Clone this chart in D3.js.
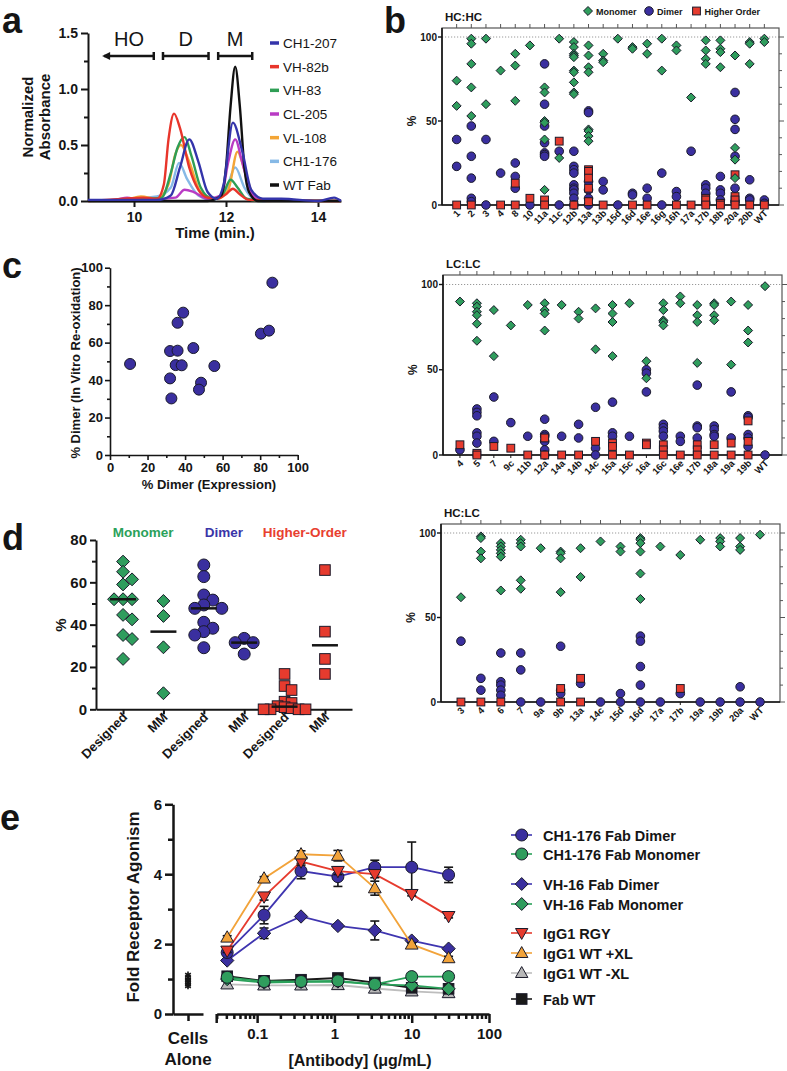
<!DOCTYPE html>
<html><head><meta charset="utf-8">
<script src="https://cdn.jsdelivr.net/npm/d3@7"></script>
<style>body{margin:0;background:#fff}svg{display:block}</style>
</head><body>
<svg id="c" width="787" height="1071"></svg>
<script>
// ================= DATA =================
// Panel a: SEC traces [time (min), normalized absorbance]
const secNames = ["CH1-207","VH-82b","VH-83","CL-205","VL-108","CH1-176","WT Fab"];
const secCH1_176 = [[9,0],[10.5,0.04],[10.8,0.12],[10.98,0.34],[11.15,0.2],[11.4,0.05],[11.7,0.01],[12.0,0.1],[12.2,0.3],[12.4,0.12],[12.6,0.02],[13,0],[14.5,0]];
const secVL_108 = [[9,0],[9.8,0.01],[10.15,0.04],[10.5,0.02],[10.75,0.15],[10.9,0.42],[11.02,0.5],[11.2,0.35],[11.45,0.08],[11.8,0.02],[12.05,0.1],[12.25,0.44],[12.4,0.28],[12.6,0.05],[12.9,0],[14.5,0]];
const secCL_205 = [[9,0],[9.6,0.01],[9.85,0.03],[10.1,0.01],[10.9,0.03],[11.1,0.1],[11.3,0.08],[11.6,0.02],[11.9,0.05],[12.05,0.35],[12.2,0.55],[12.35,0.35],[12.55,0.07],[12.8,0],[14.5,0]];
const secVH_83 = [[9,0],[10.3,0.02],[10.6,0.03],[10.8,0.25],[10.95,0.48],[11.1,0.57],[11.25,0.4],[11.45,0.12],[11.7,0.02],[11.9,0.04],[12.1,0.19],[12.25,0.12],[12.45,0.02],[12.8,0],[14.5,0]];
const secVH_82b = [[9,0],[9.8,0.02],[10.2,0.03],[10.5,0.02],[10.65,0.15],[10.75,0.55],[10.87,0.78],[11.0,0.65],[11.2,0.3],[11.4,0.1],[11.6,0.03],[11.8,0.02],[12.0,0.06],[12.15,0.11],[12.3,0.06],[12.5,0.01],[14.5,0]];
const secWT = [[9,0],[11.6,0],[11.9,0.05],[12.0,0.3],[12.1,0.85],[12.2,1.2],[12.3,0.85],[12.4,0.3],[12.5,0.08],[12.7,0],[14.5,0]];
const secCH1_207 = [[9,0.01],[10.5,0.01],[10.8,0.05],[11.0,0.3],[11.2,0.55],[11.4,0.35],[11.6,0.08],[11.8,0.02],[11.95,0.15],[12.15,0.7],[12.35,0.45],[12.55,0.1],[12.8,0.02],[13.2,0.02],[14.0,0.0],[14.35,0.03],[14.5,0.0]];
const secTicksX = [10,12,14];
const secTicksY = [0,0.5,1.0,1.5];

// Panel b: HC:HC
const hchcCats = ["1","2","3","4","8","10","11a","11c","12b","13a","13b","15d","16d","16e","16g","16h","17a","17b","18b","20a","20b","WT"];
const hchcMonomer = [[74,59],[99,96,84,70,53],[99,60],[80],[90,83,62],[95],[70,67,50,49,39,9],[99,28],[97,94,90,89,88,80,79,73,67,66],[95,89,82,79,45,44,41,38],[90,86,85],[99],[94,93],[96,90],[99,80],[95,92],[64],[98,92,87,84],[98,93,91,82],[89,34,27,16],[97,96,84],[99,97]];
const hchcDimer = [[39,23],[47,29,16,4,2],[39,0],[19],[25,17,10],[0],[84,60,47,37,31,30,29],[32,0],[32,23,21,19,12,10,9,7,4,0],[56,55,14,9,4,0],[14,9],[0],[7,6],[10,4],[19,0],[8,5],[32],[12,10,7,1],[17,9,7,3],[67,51,45,29,10,2],[15,4,3],[3,1]];
const hchcHigher = [[0],[0],[],[0],[13,0],[4],[3,0],[38],[0],[21,20,16,10,2],[0],[],[0],[0],[],[0],[0],[4,3,0],[1,0],[18,5,3,0],[0],[0]];
// Panel b: LC:LC
const lclcCats = ["4","5","7","9c","11b","12a","14a","14b","14c","15a","15c","16a","16c","16e","17b","18a","19a","19b","WT"];
const lclcMonomer = [[90],[89,87,84,82,77,67],[85,58],[76],[88],[89,85,83,73],[88],[84,80],[86,62],[88,83,78,58],[89],[55,45],[89,85,79,78,76],[93,89],[88,82,78,54],[89,88,82,79],[90,53],[88,73,66],[99]];
const lclcDimer = [[3],[27,25,23,13,11,7],[34,8],[19],[11],[21,12,11,8,3,0],[11],[18,10],[28,4,0],[31,13,11],[11],[50,48,37],[18,16,14,11],[11,8],[41,17,16,10],[17,15,12,11],[37,10],[23,22,12,10,5],[0]];
const lclcHigher = [[6],[1,0],[5],[4],[0],[10,0],[0],[0],[8],[7,5,0],[0],[7,6],[6,3,0],[0],[6,3,0],[6,0],[7,0],[20,8,0],[]];
// Panel b: HC:LC
const hclcCats = ["3","4","6","7","9a","9b","13a","14c","15d","16d","17a","17b","19a","19b","20a","WT"];
const hclcMonomer = [[62],[98,97,89,85],[94,92,90,88,86,66],[96,94,92,72,67],[91],[89,88,85,65],[91,74],[95],[92,89],[97,96,94,89,76,61],[92],[87],[96],[97,95,92],[97,92,90],[99]];
const hclcDimer = [[36],[14,7],[29,12,10,7,4],[29,19,0],[0],[33,7,5],[11],[0],[5,0],[39,36,21,10,0],[0],[5],[0],[0],[9,0],[0]];
const hclcHigher = [[0],[0],[0],[],[],[8,0],[14,0],[],[],[],[],[8],[],[],[],[]];
const bLegend = ["Monomer","Dimer","Higher Order"];

// Panel c: % dimer expression vs in vitro re-oxidation
const cExpression = [10.7,32,36,36,39,35,38.2,32,32.7,44.4,48.5,47.4,55.6,80.4,84.7,86.5];
const cReoxidation = [48.6,55.5,55.7,70.6,76,48,47.9,40.9,30.2,57.1,38.6,34.9,47.5,64.8,66.4,92];

// Panel d
const dGroups = ["Designed","MM","Designed","MM","Designed","MM"];
const dHeaders = ["Monomer","Dimer","Higher-Order"];
const dMonomerDesigned = [69.8,65,61.4,59,52,52,52,44.6,42.5,35.1,33.2,23.8];
const dMonomerMM = [51.2,44.1,29.3,7.6];
const dDimerDesigned = [68.2,62.7,54,51.6,49.3,47.7,47.7,41.1,38.3,36.7,35.1,29.1];
const dDimerMM = [33.5,31.5,31.5,26.1];
const dHigherDesigned = [16.7,11,9.1,3.6,3.0,1.5,1,0.5,0,0,0,0];
const dHigherMM = [65.8,36.7,23.8,16.7];

// Panel e
const eConc = [0.041,0.123,0.37,1.11,3.33,10,30];
const eCH1Dimer = [1.76,2.83,4.09,3.93,4.2,4.2,3.98];
const eCH1DimerErr = [0.1,0.25,0.22,0.28,0.2,0.72,0.22];
const eCH1Monomer = [1.05,0.93,0.93,0.95,0.85,1.07,1.07];
const eVH16Dimer = [1.53,2.31,2.79,2.52,2.39,2.1,1.87];
const eVH16DimerErr = [0.05,0.15,0.05,0.05,0.27,0.05,0.05];
const eVH16Monomer = [1.0,0.9,0.92,0.93,0.85,0.82,0.72];
const eRGY = [1.81,3.36,4.36,4.09,4.0,3.43,2.8];
const eRGYErr = [0.05,0.1,0.1,0.1,0.1,0.05,0.05];
const eWTplusXL = [2.19,3.88,4.57,4.53,3.6,1.99,1.6];
const eWTplusXLErr = [0.05,0.05,0.1,0.15,0.2,0.05,0.05];
const eWTminusXL = [0.85,0.82,0.82,0.83,0.73,0.65,0.6];
const eFabWT = [1.08,0.95,0.98,1.03,0.9,0.75,0.72];
const eCellsAlone = [1.12,1.05,1.0,0.95,0.9,0.85,0.8];
const eLegend = ["CH1-176 Fab Dimer","CH1-176 Fab Monomer","VH-16 Fab Dimer","VH-16 Fab Monomer","IgG1 RGY","IgG1 WT +XL","IgG1 WT -XL","Fab WT"];
const eTicksX = [0.1,1,10,100];
const eTicksY = [0,2,4,6];

// ================= DRAWING =================
const F = '"Liberation Sans", Arial, Helvetica, sans-serif';
const INK = "#151515";
const COL = {green:"#2f9d5d", blue:"#3a2f9f", red:"#e63b2e", orange:"#f2a33a", gray:"#b8b8b8"};
const svg = d3.select("#c");
svg.append("rect").attr("width",787).attr("height",1071).attr("fill","#fff");

function text(g,x,y,s,o={}){
  const t=g.append("text").attr("x",x).attr("y",y).text(s)
    .attr("font-family",F).attr("font-size",o.size||12).attr("font-weight",o.weight||"bold")
    .attr("fill",o.fill||INK).attr("text-anchor",o.anchor||"start");
  if(o.rotate!==undefined) t.attr("transform",`rotate(${o.rotate},${x},${y})`);
  return t;
}
function styleAxis(g,fs,sw){
  g.attr("font-family",null).attr("font-size",null);
  g.select(".domain").attr("stroke",INK).attr("stroke-width",sw);
  g.selectAll(".tick line").attr("stroke",INK).attr("stroke-width",sw);
  g.selectAll(".tick text").attr("font-family",F).attr("font-size",fs).attr("font-weight","bold").attr("fill",INK);
}
function diamondPath(cx,cy,h){return `M${cx},${cy-h}L${cx+h},${cy}L${cx},${cy+h}L${cx-h},${cy}Z`;}
function marker(g,type,cx,cy,s,fill){
  let el;
  if(type==="circle") el=g.append("circle").attr("cx",cx).attr("cy",cy).attr("r",s);
  else if(type==="diamond") el=g.append("path").attr("d",diamondPath(cx,cy,s*1.15));
  else if(type==="square") el=g.append("rect").attr("x",cx-s).attr("y",cy-s).attr("width",2*s).attr("height",2*s);
  else if(type==="tri") el=g.append("path").attr("d",`M${cx},${cy-s*1.15}L${cx+s*1.1},${cy+s*0.8}L${cx-s*1.1},${cy+s*0.8}Z`);
  else if(type==="trid") el=g.append("path").attr("d",`M${cx},${cy+s*1.15}L${cx+s*1.1},${cy-s*0.8}L${cx-s*1.1},${cy-s*0.8}Z`);
  el.attr("fill",fill).attr("stroke","#1a1a2a").attr("stroke-width",1);
  return el;
}
function panelLabel(s,x,y){ text(svg,x,y,s,{size:36}); }

// ---------- Panel a ----------
(function(){
  const g=svg.append("g");
  const x=d3.scaleLinear([9,14.5],[88,341]);
  const y=d3.scaleLinear([0,1.5],[201,33]);
  const ax=g.append("g").attr("transform","translate(0,201)")
    .call(d3.axisBottom(x).tickValues(secTicksX).tickFormat(d3.format("d")).tickSize(6).tickSizeOuter(0).tickPadding(5));
  styleAxis(ax,14,2);
  const ay=g.append("g").attr("transform","translate(88,0)")
    .call(d3.axisLeft(y).tickValues(secTicksY).tickFormat(d3.format(".1f")).tickSize(7).tickSizeOuter(0).tickPadding(3));
  styleAxis(ay,14,2);
  const aym=g.append("g").attr("transform","translate(88,0)")
    .call(d3.axisLeft(y).tickValues([0.25,0.75,1.25]).tickFormat("").tickSize(4).tickSizeOuter(0));
  styleAxis(aym,14,2); aym.select(".domain").remove();
  text(g,33,117,"Normalized",{size:15,anchor:"middle",rotate:-90});
  text(g,50,117,"Absorbance",{size:15,anchor:"middle",rotate:-90});
  text(g,215,238,"Time (min.)",{size:15,anchor:"middle"});
  const regions=[["HO",9.35,10.43,true],["D",10.63,11.62,false],["M",11.83,12.57,false]];
  regions.forEach(([lab,a,b,arrow])=>{
    const ym=56;
    g.append("line").attr("x1",x(a)).attr("x2",x(b)).attr("y1",ym).attr("y2",ym).attr("stroke",INK).attr("stroke-width",2.5);
    g.append("line").attr("x1",x(b)).attr("x2",x(b)).attr("y1",ym-4).attr("y2",ym+4).attr("stroke",INK).attr("stroke-width",2.5);
    if(arrow) g.append("path").attr("d",`M${x(a)-2},${ym}L${x(a)+6},${ym-4}L${x(a)+6},${ym+4}Z`).attr("fill",INK);
    else g.append("line").attr("x1",x(a)).attr("x2",x(a)).attr("y1",ym-4).attr("y2",ym+4).attr("stroke",INK).attr("stroke-width",2.5);
    text(g,(x(a)+x(b))/2,46,lab,{size:20,weight:"normal",anchor:"middle"});
  });
  const series=[[secCH1_176,"#86b9e6"],[secVL_108,"#f3a536"],[secCL_205,"#b93bc4"],[secVH_83,"#2f9e55"],[secVH_82b,"#e8352b"],[secWT,"#111111"],[secCH1_207,"#3434aa"]];
  const line=d3.line().x(d=>x(d[0])).y(d=>y(d[1])).curve(d3.curveMonotoneX);
  series.forEach(([d,c])=>g.append("path").attr("d",line(d)).attr("fill","none").attr("stroke",c).attr("stroke-width",2.4).attr("stroke-linejoin","round"));
  const legCols=["#3434aa","#e8352b","#2f9e55","#b93bc4","#f3a536","#86b9e6","#111111"];
  const ly=d3.scalePoint(secNames,[43,185]);
  secNames.forEach((n,i)=>{
    g.append("line").attr("x1",270).attr("x2",279).attr("y1",ly(n)).attr("y2",ly(n)).attr("stroke",legCols[i]).attr("stroke-width",3.5);
    text(g,283,ly(n)+5,n,{size:13.5,weight:"normal"});
  });
})();
panelLabel("a",2,33);

// ---------- Panel b ----------
function dotPanel(cfg){
  const g=svg.append("g");
  const {cats,mon,dim,hi,left,right,top,y0,y100,title}=cfg;
  const x=d3.scalePoint(cats,[left,right]).padding(1);
  const y=d3.scaleLinear([0,100],[y0,y100]);
  g.append("line").attr("x1",left).attr("x2",right).attr("y1",y(100)).attr("y2",y(100)).attr("stroke","#999").attr("stroke-width",1).attr("stroke-dasharray","1.2,1.8");
  g.append("rect").attr("x",left).attr("y",top).attr("width",right-left).attr("height",y0-top).attr("fill","none").attr("stroke","#555").attr("stroke-width",1.2);
  g.append("line").attr("x1",left).attr("x2",right).attr("y1",y0).attr("y2",y0).attr("stroke",INK).attr("stroke-width",1.6);
  g.append("line").attr("x1",left).attr("x2",left).attr("y1",top).attr("y2",y0).attr("stroke",INK).attr("stroke-width",1.6);
  cats.forEach(c=>g.append("line").attr("x1",x(c)).attr("x2",x(c)).attr("y1",top).attr("y2",top-4).attr("stroke","#555").attr("stroke-width",1));
  d3.range(0,101,10).forEach(v=>g.append("line").attr("x1",right).attr("x2",right+(v%50===0?5:3)).attr("y1",y(v)).attr("y2",y(v)).attr("stroke","#555").attr("stroke-width",1));
  [0,50,100].forEach(v=>{
    g.append("line").attr("x1",left-4).attr("x2",left).attr("y1",y(v)).attr("y2",y(v)).attr("stroke",INK).attr("stroke-width",1.4);
    text(g,left-5,y(v)+3.5,String(v),{size:10,anchor:"end"});
  });
  text(g,left-26,y(50),"%",{size:12,anchor:"middle",rotate:-90});
  text(g,left+3,top-7,title,{size:11.5});
  cats.forEach(c=>{
    g.append("line").attr("x1",x(c)).attr("x2",x(c)).attr("y1",y0).attr("y2",y0+3).attr("stroke",INK).attr("stroke-width",1);
    text(g,x(c)+4,y0+9,c,{size:9.5,anchor:"end",rotate:-45});
  });
  cats.forEach((c,i)=>{
    dim[i].forEach(v=>marker(g,"circle",x(c),y(v),4.3,COL.blue));
    hi[i].forEach(v=>marker(g,"square",x(c),y(v),3.9,COL.red));
    mon[i].forEach(v=>marker(g,"diamond",x(c),y(v),3.9,COL.green));
  });
}
dotPanel({cats:hchcCats,mon:hchcMonomer,dim:hchcDimer,hi:hchcHigher,left:442,right:779,top:28,y0:205,y100:37,title:"HC:HC"});
dotPanel({cats:lclcCats,mon:lclcMonomer,dim:lclcDimer,hi:lclcHigher,left:443,right:782,top:275,y0:455,y100:284.5,title:"LC:LC"});
dotPanel({cats:hclcCats,mon:hclcMonomer,dim:hclcDimer,hi:hclcHigher,left:441,right:780,top:524,y0:702,y100:533,title:"HC:LC"});
(function(){
  const g=svg.append("g");
  const lx=d3.scaleOrdinal(bLegend,[588,649,696.5]);
  const types=["diamond","circle","square"], cols=[COL.green,COL.blue,COL.red];
  bLegend.forEach((n,i)=>{
    marker(g,types[i],lx(n),11,types[i]==="circle"?4.3:3.9,cols[i]);
    text(g,lx(n)+8,14.5,n,{size:9});
  });
})();
panelLabel("b",384,33);

// ---------- Panel c ----------
(function(){
  const g=svg.append("g");
  const x=d3.scaleLinear([0,100],[110,297.7]);
  const y=d3.scaleLinear([0,100],[455,267.7]);
  const ax=g.append("g").attr("transform","translate(0,455)")
    .call(d3.axisBottom(x).tickValues(d3.range(0,101,20)).tickSize(5).tickSizeOuter(0).tickPadding(3));
  styleAxis(ax,13,1.6);
  const axm=g.append("g").attr("transform","translate(0,455)")
    .call(d3.axisBottom(x).tickValues(d3.range(10,100,20)).tickFormat("").tickSize(3).tickSizeOuter(0));
  styleAxis(axm,13,1.6); axm.select(".domain").remove();
  const ay=g.append("g").attr("transform","translate(110,0)")
    .call(d3.axisLeft(y).tickValues(d3.range(0,101,20)).tickSize(5).tickSizeOuter(0).tickPadding(2));
  styleAxis(ay,13,1.6);
  const aym=g.append("g").attr("transform","translate(110,0)")
    .call(d3.axisLeft(y).tickValues(d3.range(10,100,20)).tickFormat("").tickSize(3).tickSizeOuter(0));
  styleAxis(aym,13,1.6); aym.select(".domain").remove();
  text(g,80,363,"% Dimer (In Vitro Re-oxidation)",{size:13,anchor:"middle",rotate:-90});
  text(g,209,489,"% Dimer (Expression)",{size:13,anchor:"middle"});
  cExpression.forEach((v,i)=>marker(g,"circle",x(v),y(cReoxidation[i]),5.5,COL.blue));
})();
panelLabel("c",2,278);

// ---------- Panel d ----------
(function(){
  const g=svg.append("g");
  const idx=d3.range(dGroups.length);
  const x=d3.scalePoint(idx,[96,352]).padding(0.67);
  const y=d3.scaleLinear([0,80],[709.3,540]);
  const ay=g.append("g").attr("transform","translate(96,0)")
    .call(d3.axisLeft(y).tickValues([0,20,40,60,80]).tickSize(6).tickSizeOuter(0).tickPadding(3));
  styleAxis(ay,15,2);
  const aym=g.append("g").attr("transform","translate(96,0)")
    .call(d3.axisLeft(y).tickValues([10,30,50,70]).tickFormat("").tickSize(4).tickSizeOuter(0));
  styleAxis(aym,15,2); aym.select(".domain").remove();
  const ax=g.append("g").attr("transform","translate(0,709.3)")
    .call(d3.axisBottom(x).tickFormat("").tickSize(5).tickSizeOuter(0));
  styleAxis(ax,13,2);
  idx.forEach(i=>text(g,x(i)+5,718,dGroups[i],{size:13,anchor:"end",rotate:-45}));
  text(g,66,625,"%",{size:15,anchor:"middle",rotate:-90});
  const hc=["#2aa15a","#3a35a8","#e8402f"];
  dHeaders.forEach((h,k)=>text(g,(x(2*k)+x(2*k+1))/2,537,h,{size:13.5,anchor:"middle",fill:hc[k]}));
  const groups=[[dMonomerDesigned,"diamond",COL.green,9,9],[dMonomerMM,"diamond",COL.green,9,9],[dDimerDesigned,"circle",COL.blue,9,9],[dDimerMM,"circle",COL.blue,9,9],[dHigherDesigned,"square",COL.red,7,5],[dHigherMM,"square",COL.red,9,9]];
  groups.forEach(([vals,type,col,step,minD],i)=>{
    const placed=[];
    vals.slice().sort((a,b)=>b-a).forEach(v=>{
      const cy=y(v);
      for(let k=0;k<20;k++){
        const off=(k===0?0:(k%2?1:-1)*Math.ceil(k/2)*step);
        const cx=x(i)+off;
        if(placed.every(p=>Math.hypot(p[0]-cx,p[1]-cy)>=minD-0.01)){placed.push([cx,cy]);break;}
      }
    });
    placed.forEach(p=>marker(g,type,p[0],p[1],type==="circle"?6:(type==="square"?5.3:5.6),col));
    const med=d3.median(vals);
    g.append("line").attr("x1",x(i)-13).attr("x2",x(i)+13).attr("y1",y(med)).attr("y2",y(med)).attr("stroke",INK).attr("stroke-width",2.5);
  });
})();
panelLabel("d",2,550);

// ---------- Panel e ----------
(function(){
  const g=svg.append("g");
  const x=d3.scaleLog([0.03,100],[216.7,489]);
  const y=d3.scaleLinear([0,6],[1014,804.3]);
  const ay=g.append("g").attr("transform","translate(173,0)")
    .call(d3.axisLeft(y).tickValues(eTicksY).tickFormat(d3.format("d")).tickSize(8).tickSizeOuter(0).tickPadding(3));
  styleAxis(ay,15,2.5);
  const aym=g.append("g").attr("transform","translate(173,0)")
    .call(d3.axisLeft(y).tickValues([1,3,5]).tickFormat("").tickSize(5).tickSizeOuter(0));
  styleAxis(aym,15,2.5); aym.select(".domain").remove();
  const xc=d3.scalePoint(["Cells Alone"],[173,203]).padding(0.5);
  const axc=g.append("g").attr("transform","translate(0,1014)")
    .call(d3.axisBottom(xc).tickFormat("").tickSize(7).tickSizeOuter(0));
  styleAxis(axc,15,2.5);
  text(g,xc("Cells Alone"),1044,"Cells",{size:17,anchor:"middle"});
  text(g,xc("Cells Alone"),1065,"Alone",{size:17,anchor:"middle"});
  eCellsAlone.forEach(v=>{
    g.append("path").attr("transform",`translate(${xc("Cells Alone")},${y(v)})`).attr("d",d3.symbol(d3.symbolAsterisk,30)()).attr("stroke",INK).attr("stroke-width",1.6).attr("fill","none");
  });
  const minor=[];
  [0.01,0.1,1,10].forEach(d=>d3.range(2,10).forEach(k=>{const v=d*k; if(v>=0.03&&v<100&&eTicksX.indexOf(v)<0) minor.push(v);}));
  const ax=g.append("g").attr("transform","translate(0,1014)")
    .call(d3.axisBottom(x).tickValues(eTicksX).tickFormat(d=>String(d)).tickSize(9).tickSizeOuter(0).tickPadding(5));
  styleAxis(ax,15,2.5);
  const axm=g.append("g").attr("transform","translate(0,1014)")
    .call(d3.axisBottom(x).tickValues(minor).tickFormat("").tickSize(5).tickSizeOuter(0));
  styleAxis(axm,15,2.5); axm.select(".domain").remove();
  g.append("line").attr("x1",x(0.03)).attr("x2",x(0.03)).attr("y1",1014).attr("y2",1023).attr("stroke",INK).attr("stroke-width",2.5);
  text(g,139,907,"Fold Receptor Agonism",{size:17,anchor:"middle",rotate:-90});
  text(g,360,1066,"[Antibody] (\u03bcg/mL)",{size:16,anchor:"middle"});
  const series=[
    {v:eWTminusXL,type:"tri",fill:COL.gray,line:"#bdbdbd"},
    {v:eFabWT,type:"square",fill:"#1a1a1a",line:"#1a1a1a"},
    {v:eVH16Monomer,type:"diamond",fill:COL.green,line:"#2aa15a"},
    {v:eCH1Monomer,type:"circle",fill:COL.green,line:"#2aa15a"},
    {v:eVH16Dimer,err:eVH16DimerErr,type:"diamond",fill:COL.blue,line:"#3f35b0"},
    {v:eCH1Dimer,err:eCH1DimerErr,type:"circle",fill:COL.blue,line:"#3f35b0"},
    {v:eRGY,err:eRGYErr,type:"trid",fill:COL.red,line:"#e63b2e"},
    {v:eWTplusXL,err:eWTplusXLErr,type:"tri",fill:COL.orange,line:"#f2a33a"}
  ];
  const line=d3.line().x((d,i)=>x(eConc[i])).y(d=>y(d));
  series.forEach(s=>{
    g.append("path").attr("d",line(s.v)).attr("fill","none").attr("stroke",s.line).attr("stroke-width",1.8);
    if(s.err) s.v.forEach((v,i)=>{
      const cx=x(eConc[i]), e=s.err[i];
      g.append("line").attr("x1",cx).attr("x2",cx).attr("y1",y(v-e)).attr("y2",y(v+e)).attr("stroke",INK).attr("stroke-width",1.6);
      [v-e,v+e].forEach(t=>g.append("line").attr("x1",cx-4.5).attr("x2",cx+4.5).attr("y1",y(t)).attr("y2",y(t)).attr("stroke",INK).attr("stroke-width",1.6));
    });
    s.v.forEach((v,i)=>marker(g,s.type,x(eConc[i]),y(v),s.type==="circle"?6:(s.type==="square"?5.3:5.8),s.fill));
  });
  const legStyle=[
    ["circle",COL.blue,"#3f35b0"],["circle",COL.green,"#2aa15a"],["diamond",COL.blue,"#3f35b0"],["diamond",COL.green,"#2aa15a"],
    ["trid",COL.red,"#e63b2e"],["tri",COL.orange,"#f2a33a"],["tri",COL.gray,"#bdbdbd"],["square","#1a1a1a","#1a1a1a"]];
  const ly=d3.scaleOrdinal(eLegend,[835,854,884,904,933,953,973,999]);
  eLegend.forEach((n,i)=>{
    const [t,f,l]=legStyle[i];
    g.append("line").attr("x1",511).attr("x2",532).attr("y1",ly(n)).attr("y2",ly(n)).attr("stroke",l).attr("stroke-width",1.6);
    marker(g,t,521.7,ly(n),t==="circle"?6:(t==="square"?5.3:5.6),f);
    text(g,543,ly(n)+5.5,n,{size:14.5});
  });
})();
panelLabel("e",0,830);
</script>
</body></html>
